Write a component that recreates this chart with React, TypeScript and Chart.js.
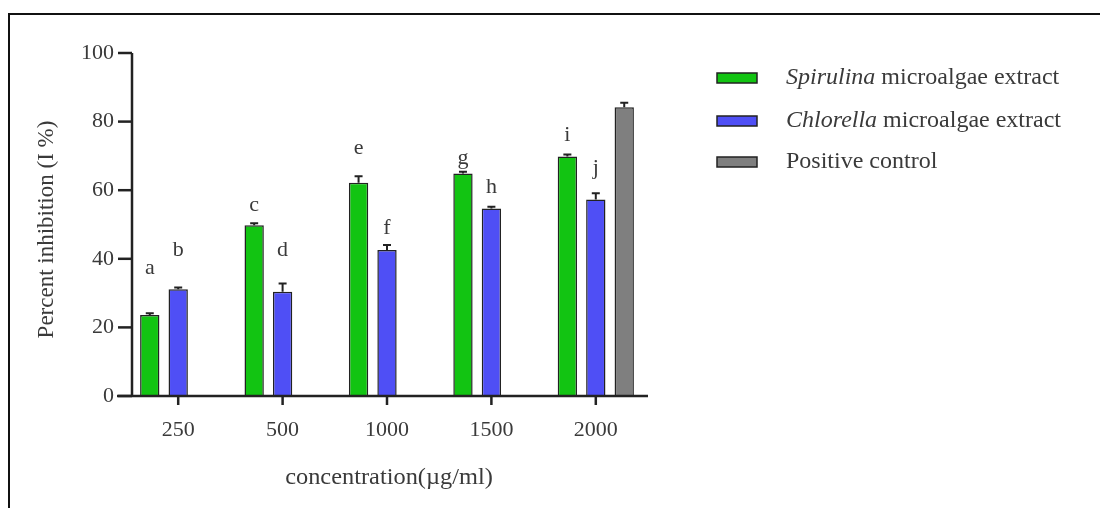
import React, { useEffect, useRef } from "react";
import { Chart, registerables } from "chart.js";

Chart.register(...registerables);

const categories = ["250", "500", "1000", "1500", "2000"];
const spirulina = [23.6, 49.8, 62.2, 64.9, 69.8];
const spirulinaErr = [0.5, 0.6, 1.9, 0.5, 0.6];
const chlorella = [31.1, 30.4, 42.6, 54.7, 57.3];
const chlorellaErr = [0.5, 2.4, 1.4, 0.5, 1.8];
const positiveControl = [null, null, null, null, 84.2];
const positiveErr = [0, 0, 0, 0, 1.3];
const spirulinaLetters = ["a", "c", "e", "g", "i"];
const chlorellaLetters = ["b", "d", "f", "h", "j"];
const spirulinaLetterAt = [37.3, 55.7, 72.3, 69.4, 76.0];
const chlorellaLetterAt = [42.6, 42.6, 49.0, 61.0, 66.5];
const yTicks = [0, 20, 40, 60, 80, 100];
const legendItems = [
  { italic: "Spirulina", rest: " microalgae extract", color: "#12c412" },
  { italic: "Chlorella", rest: " microalgae extract", color: "#4f4ff5" },
  { italic: "", rest: "Positive control", color: "#7f7f7f" },
];

const FONT = '"Liberation Serif", "Times New Roman", serif';
const INK = "#222222";
const TEXT = "#3a3a3a";

const customDraw = {
  id: "customDraw",
  afterDatasetsDraw(chart: any) {
    const ctx = chart.ctx;
    const ca = chart.chartArea;
    const y = chart.scales.y;
    const x = chart.scales.x;
    ctx.save();

    // error bars
    const errs = [spirulinaErr, chlorellaErr, positiveErr];
    chart.data.datasets.forEach((ds: any, di: number) => {
      const meta = chart.getDatasetMeta(di);
      meta.data.forEach((el: any, i: number) => {
        const v = ds.data[i];
        if (v == null) return;
        const e = errs[di][i];
        const top = y.getPixelForValue(v + e);
        ctx.strokeStyle = INK;
        ctx.lineWidth = 2;
        ctx.beginPath();
        ctx.moveTo(el.x, el.y);
        ctx.lineTo(el.x, top);
        ctx.moveTo(el.x - 4, top);
        ctx.lineTo(el.x + 4, top);
        ctx.stroke();
      });
    });

    // letters
    ctx.fillStyle = TEXT;
    ctx.font = `22px ${FONT}`;
    ctx.textAlign = "center";
    ctx.textBaseline = "middle";
    const m0 = chart.getDatasetMeta(0);
    const m1 = chart.getDatasetMeta(1);
    spirulinaLetters.forEach((l, i) => {
      ctx.fillText(l, m0.data[i].x, y.getPixelForValue(spirulinaLetterAt[i]));
    });
    chlorellaLetters.forEach((l, i) => {
      ctx.fillText(l, m1.data[i].x, y.getPixelForValue(chlorellaLetterAt[i]));
    });

    // axes
    const axX = ca.left + 6;
    const y0 = y.getPixelForValue(0);
    const y100 = y.getPixelForValue(100);
    ctx.strokeStyle = INK;
    ctx.lineWidth = 2.5;
    ctx.beginPath();
    ctx.moveTo(axX, y100);
    ctx.lineTo(axX, y0);
    ctx.moveTo(axX - 15, y0);
    ctx.lineTo(ca.right, y0);
    ctx.stroke();

    ctx.font = `22px ${FONT}`;
    ctx.textAlign = "right";
    ctx.textBaseline = "middle";
    yTicks.forEach((t) => {
      const py = y.getPixelForValue(t);
      ctx.beginPath();
      ctx.moveTo(axX - 14, py);
      ctx.lineTo(axX, py);
      ctx.stroke();
      ctx.fillText(String(t), axX - 18, py);
    });

    ctx.textAlign = "center";
    categories.forEach((c, i) => {
      const px = x.getPixelForValue(i);
      ctx.beginPath();
      ctx.moveTo(px, y0);
      ctx.lineTo(px, y0 + 9);
      ctx.stroke();
      ctx.fillText(c, px, y0 + 34);
    });

    // axis titles
    ctx.font = `23px ${FONT}`;
    ctx.save();
    ctx.translate((ca.left + ca.right) / 2 + 2, y0 + 82);
    ctx.scale(1.06, 1);
    ctx.fillText("concentration(µg/ml)", 0, 0);
    ctx.restore();
    ctx.save();
    ctx.translate(47, (y0 + y100) / 2 + 5);
    ctx.rotate(-Math.PI / 2);
    ctx.fillText("Percent inhibition (I %)", 0, 0);
    ctx.restore();

    // legend
    const ly = [78, 121, 162];
    legendItems.forEach((it, i) => {
      ctx.fillStyle = it.color;
      ctx.fillRect(717, ly[i] - 5, 40, 10);
      ctx.strokeStyle = INK;
      ctx.lineWidth = 1.5;
      ctx.strokeRect(717, ly[i] - 5, 40, 10);
      ctx.fillStyle = TEXT;
      ctx.textAlign = "left";
      let tx = 786;
      if (it.italic) {
        ctx.font = `italic 24px ${FONT}`;
        ctx.fillText(it.italic, tx, ly[i]);
        tx += ctx.measureText(it.italic).width;
      }
      ctx.font = `24px ${FONT}`;
      ctx.fillText(it.rest, tx, ly[i]);
    });

    // frame
    ctx.strokeStyle = "#111";
    ctx.lineWidth = 2;
    ctx.beginPath();
    ctx.moveTo(9, 508);
    ctx.lineTo(9, 14);
    ctx.lineTo(1100, 14);
    ctx.stroke();

    ctx.restore();
  },
};

export default function App() {
  const ref = useRef<HTMLCanvasElement>(null);
  useEffect(() => {
    document.body.style.margin = "0";
    const chart = new Chart(ref.current!, {
      type: "bar",
      data: {
        labels: categories,
        datasets: [
          { label: "Spirulina microalgae extract", data: spirulina, backgroundColor: "#12c412", borderColor: INK, borderWidth: 1.5 },
          { label: "Chlorella microalgae extract", data: chlorella, backgroundColor: "#4f4ff5", borderColor: INK, borderWidth: 1.5 },
          { label: "Positive control", data: positiveControl as any, backgroundColor: "#7f7f7f", borderColor: INK, borderWidth: 1.5 },
        ],
      },
      options: {
        animation: false,
        responsive: false,
        devicePixelRatio: 1,
        categoryPercentage: 0.817,
        barPercentage: 0.68,
        layout: { padding: { left: 126, right: 452, top: 53, bottom: 112 } },
        plugins: { legend: { display: false }, tooltip: { enabled: false } },
        scales: {
          x: { display: false, offset: true },
          y: { display: false, min: 0, max: 100 },
        },
      },
      plugins: [customDraw],
    });
    return () => chart.destroy();
  }, []);
  return (
    <div style={{ width: 1100, height: 508, background: "#fff" }}>
      <canvas ref={ref} width={1100} height={508} />
    </div>
  );
}
